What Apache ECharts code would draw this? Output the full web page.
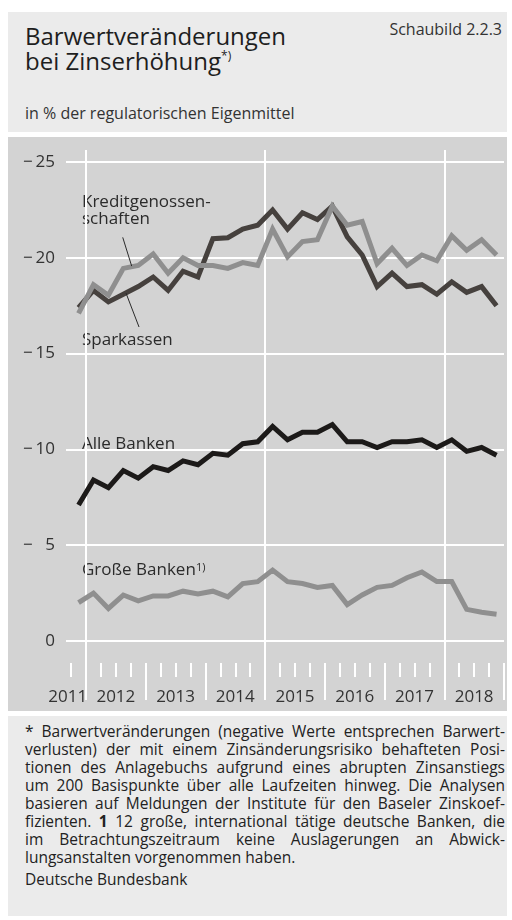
<!DOCTYPE html>
<html><head><meta charset="utf-8">
<script src="https://cdn.jsdelivr.net/npm/echarts@6/dist/echarts.min.js"></script>
<style>
html,body{margin:0;padding:0;background:#fff;}
body{width:512px;height:920px;position:relative;overflow:hidden;font-family:'Open Sans',sans-serif;color:#222;}
#head{position:absolute;left:8px;top:12px;width:499px;height:120px;background:#ebebeb;}
#title{position:absolute;left:17px;top:11px;font-size:24px;line-height:25px;color:#1e1e1e;}
#title sup{font-size:12px;vertical-align:10px;line-height:0;}
#badge{position:absolute;right:5px;top:8px;font-size:16px;line-height:18px;color:#333;}
#sub{position:absolute;left:17px;top:92px;font-size:16px;line-height:18px;color:#333;}
#chart{position:absolute;left:8px;top:137px;width:499px;height:574px;background:#d3d3d3;}
#foot{position:absolute;left:8px;top:716px;width:499px;height:200px;background:#ebebeb;}
#fn{position:absolute;left:17px;top:6px;width:480px;font-size:15.5px;line-height:18px;color:#222;}
#fn div{text-align:justify;text-align-last:justify;white-space:nowrap;}
#fn div.last{text-align-last:left;}
#src{position:absolute;left:17px;top:154px;font-size:15.5px;line-height:18px;color:#222;}
</style></head>
<body>
<div id="head">
  <div id="title">Barwertveränderungen<br>bei Zinserhöhung<sup>*)</sup></div>
  <div id="badge">Schaubild 2.2.3</div>
  <div id="sub">in % der regulatorischen Eigenmittel</div>
</div>
<div id="chart"></div>
<div id="foot">
  <div id="fn">
    <div>* Barwertveränderungen (negative Werte entsprechen Barwert-</div>
    <div>verlusten) der mit einem Zinsänderungsrisiko behafteten Posi-</div>
    <div>tionen des Anlagebuchs aufgrund eines abrupten Zinsanstiegs</div>
    <div>um 200 Basispunkte über alle Laufzeiten hinweg. Die Analysen</div>
    <div>basieren auf Meldungen der Institute für den Baseler Zinskoef-</div>
    <div>fizienten. <b>1</b> 12 große, international tätige deutsche Banken, die</div>
    <div>im Betrachtungszeitraum keine Auslagerungen an Abwick-</div>
    <div class="last">lungsanstalten vorgenommen haben.</div>
  </div>
  <div id="src">Deutsche Bundesbank</div>
</div>
<script>
// ---- data ----
const quarters = ['2011 Q4',
  '2012 Q1','2012 Q2','2012 Q3','2012 Q4',
  '2013 Q1','2013 Q2','2013 Q3','2013 Q4',
  '2014 Q1','2014 Q2','2014 Q3','2014 Q4',
  '2015 Q1','2015 Q2','2015 Q3','2015 Q4',
  '2016 Q1','2016 Q2','2016 Q3','2016 Q4',
  '2017 Q1','2017 Q2','2017 Q3','2017 Q4',
  '2018 Q1','2018 Q2','2018 Q3','2018 Q4'];
const yearLabels = ['2011','2012','2013','2014','2015','2016','2017','2018'];
const yTicks = [-25, -20, -15, -10, -5, 0];
const sparkassen = [-17.4,-18.3,-17.7,-18.1,-18.5,-19.0,-18.3,-19.3,-19.0,-21.0,-21.05,-21.5,-21.7,-22.5,-21.5,-22.35,-22.0,-22.7,-21.1,-20.15,-18.5,-19.2,-18.5,-18.6,-18.1,-18.75,-18.2,-18.5,-17.5];
const kreditgenossenschaften = [-17.1,-18.6,-18.05,-19.45,-19.6,-20.2,-19.2,-20.0,-19.6,-19.6,-19.45,-19.75,-19.6,-21.5,-20.05,-20.85,-20.95,-22.7,-21.7,-21.9,-19.7,-20.5,-19.6,-20.15,-19.85,-21.15,-20.4,-20.95,-20.15];
const alleBanken = [-7.1,-8.4,-8.0,-8.9,-8.5,-9.1,-8.9,-9.4,-9.2,-9.8,-9.7,-10.3,-10.4,-11.2,-10.5,-10.9,-10.9,-11.3,-10.4,-10.4,-10.1,-10.4,-10.4,-10.5,-10.1,-10.5,-9.9,-10.1,-9.7];
const grosseBanken = [-2.0,-2.5,-1.7,-2.4,-2.1,-2.35,-2.35,-2.6,-2.45,-2.6,-2.3,-3.0,-3.1,-3.7,-3.1,-3.0,-2.8,-2.9,-1.9,-2.4,-2.8,-2.9,-3.3,-3.6,-3.1,-3.1,-1.65,-1.5,-1.4];

// ---- layout helpers ----
const X_MIN = 2011.665, X_MAX = 2019, Y_MIN = -25.63, Y_MAX = 3.08;
const xOf = q => { const p = q.split(' Q'); return +p[0] + (+p[1] - 0.5) / 4; };
const xs = quarters.map(xOf);
const pairs = arr => arr.map((v, i) => [xs[i], v]);
const years = yearLabels.map(Number);
const majorLines = years.filter(y => y > 2011 && (y - 2012) % 3 === 0);
const yearTicks = years.slice(1).concat([years[years.length - 1] + 1]);
const quarterTicks = [];
years.forEach(y => [0.25, 0.5, 0.75].forEach(f => { if (y + f > X_MIN) quarterTicks.push(y + f); }));
const labelPos = years.map((y, i) => i === 0 ? X_MIN + 0.03 : y + 0.5);

const WHITE = '#ffffff';
const FONT = 'Open Sans';
const chart = echarts.init(document.getElementById('chart'));
const hiddenX = (extra) => Object.assign({
  type: 'value', min: X_MIN, max: X_MAX, position: 'bottom',
  axisLine: { show: false, onZero: false },
  splitLine: { show: false }, axisLabel: { show: false }
}, extra);
const lbl = '17px "Open Sans"';

chart.setOption({
  animation: false,
  grid: { left: 58, right: 3, top: 13, bottom: 11 },
  xAxis: [
    hiddenX({
      axisTick: { show: false, customValues: majorLines },
      splitLine: { show: true, lineStyle: { color: WHITE, width: 2 } },
      axisLabel: {
        show: true, customValues: labelPos, inside: true, margin: 3, verticalAlign: 'middle',
        formatter: v => yearLabels[Math.floor(v) - years[0]],
        color: '#333', fontSize: 17, fontFamily: FONT
      }
    }),
    hiddenX({ offset: -37, axisTick: { show: true, customValues: quarterTicks, length: 14, lineStyle: { color: WHITE, width: 2 } } }),
    hiddenX({ offset: -37, axisTick: { show: true, customValues: yearTicks, length: 37, lineStyle: { color: WHITE, width: 2 } } })
  ],
  yAxis: {
    type: 'value', min: Y_MIN, max: Y_MAX, inverse: true,
    axisLine: { show: false, onZero: false },
    axisTick: { show: false, customValues: yTicks },
    axisLabel: {
      customValues: yTicks, margin: 11, color: '#333', fontSize: 17, fontFamily: FONT,
      formatter: v => v === 0 ? '0' : '\u2212\u2009' + (Math.abs(v) < 10 ? '\u2007' : '') + Math.abs(v)
    },
    splitLine: { show: true, lineStyle: { color: WHITE, width: 2 } }
  },
  series: [
    { name: 'Sparkassen', type: 'line', data: pairs(sparkassen), showSymbol: false, symbol: 'none',
      lineStyle: { color: '#46413e', width: 5, join: 'miter' }, z: 3,
      markLine: { silent: true, symbol: ['none', 'none'], label: { show: false },
        lineStyle: { color: '#2a2a2a', width: 1, type: 'solid' },
        data: [[{ coord: [2012.67, -18.16] }, { coord: [2012.888, -16.39] }]] } },
    { name: 'Kreditgenossenschaften', type: 'line', data: pairs(kreditgenossenschaften), showSymbol: false, symbol: 'none',
      lineStyle: { color: '#8f8f8f', width: 5, join: 'miter' }, z: 4,
      markLine: { silent: true, symbol: ['none', 'none'], label: { show: false },
        lineStyle: { color: '#2a2a2a', width: 1, type: 'solid' },
        data: [[{ coord: [2012.615, -21.07] }, { coord: [2012.765, -19.57] }]] } },
    { name: 'Alle Banken', type: 'line', data: pairs(alleBanken), showSymbol: false, symbol: 'none',
      lineStyle: { color: '#1c1a19', width: 5, join: 'miter' }, z: 3 },
    { name: 'Große Banken', type: 'line', data: pairs(grosseBanken), showSymbol: false, symbol: 'none',
      lineStyle: { color: '#8f8f8f', width: 5, join: 'miter' }, z: 3 }
  ],
  graphic: [
    { type: 'text', left: 74, top: 57, style: { text: 'Kreditgenossen-', font: lbl, fill: '#2b2b2b' } },
    { type: 'text', left: 74, top: 74, style: { text: 'schaften', font: lbl, fill: '#2b2b2b' } },
    { type: 'text', left: 74, top: 195, style: { text: 'Sparkassen', font: lbl, fill: '#2b2b2b' } },
    { type: 'text', left: 74, top: 299, style: { text: 'Alle Banken', font: lbl, fill: '#2b2b2b' } },
    { type: 'text', left: 74, top: 425, style: { text: 'Große Banken', font: lbl, fill: '#2b2b2b' } },
    { type: 'text', left: 188, top: 425, style: { text: '1)', font: '11px "Open Sans"', fill: '#2b2b2b' } }
  ]
});
</script>
</body></html>
